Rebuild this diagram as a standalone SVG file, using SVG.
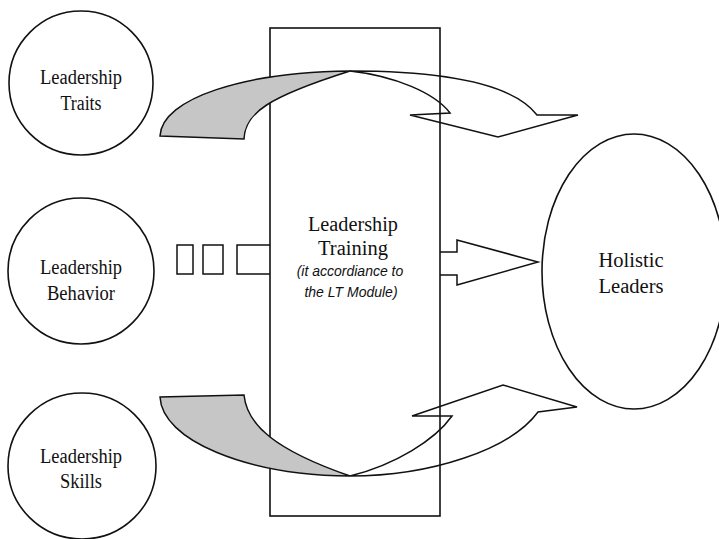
<svg xmlns="http://www.w3.org/2000/svg" width="719" height="539" viewBox="0 0 719 539">
  <style>
    .node { fill: #fff; stroke: #111; stroke-width: 1.6; }
    .label { font-family: "Liberation Serif", "DejaVu Serif", serif; font-size: 20px; fill: #111; text-anchor: middle; }
    .note { font-family: "Liberation Sans", Arial, sans-serif; font-style: italic; font-size: 14px; fill: #111; text-anchor: middle; }
    .line { fill: none; stroke: #111; stroke-width: 1.5; stroke-linejoin: miter; }
    .shade { fill: #c6c6c6; stroke: #111; stroke-width: 1.5; }
    .box { fill: none; stroke: #111; stroke-width: 1.6; }
  </style>
  <rect width="719" height="539" fill="#fff"/>

  <!-- training module frame -->
  <g id="training">
    <rect class="box" x="270" y="28" width="170" height="488"/>
    <text class="label" x="353" y="231" textLength="90" lengthAdjust="spacingAndGlyphs">Leadership</text>
    <text class="label" x="353" y="255" textLength="70" lengthAdjust="spacingAndGlyphs">Training</text>
    <text class="note" x="350" y="276">(it accordiance to</text>
    <text class="note" x="351" y="297">the LT Module)</text>
  </g>

  <g id="traits">
    <ellipse class="node" cx="81" cy="83" rx="72" ry="72"/>
    <text class="label" x="81" y="84" textLength="82" lengthAdjust="spacingAndGlyphs">Leadership</text>
    <text class="label" x="81" y="110" textLength="41" lengthAdjust="spacingAndGlyphs">Traits</text>
  </g>

  <g id="behavior">
    <ellipse class="node" cx="81" cy="271" rx="73" ry="73"/>
    <text class="label" x="81" y="274" textLength="82" lengthAdjust="spacingAndGlyphs">Leadership</text>
    <text class="label" x="81" y="300" textLength="68" lengthAdjust="spacingAndGlyphs">Behavior</text>
  </g>

  <g id="skills">
    <ellipse class="node" cx="82" cy="466" rx="74" ry="73"/>
    <text class="label" x="81" y="463" textLength="82" lengthAdjust="spacingAndGlyphs">Leadership</text>
    <text class="label" x="81" y="488" textLength="42" lengthAdjust="spacingAndGlyphs">Skills</text>
  </g>

  <g id="holistic">
    <ellipse class="node" cx="634" cy="271.5" rx="92" ry="137.5"/>
    <text class="label" x="631" y="267" textLength="65" lengthAdjust="spacingAndGlyphs">Holistic</text>
    <text class="label" x="631" y="293" textLength="65" lengthAdjust="spacingAndGlyphs">Leaders</text>
  </g>

  <g id="connectors">
    <!-- behavior feed: broken block arrow into the frame -->
    <rect class="line" x="177" y="245" width="16" height="29"/>
    <rect class="line" x="203" y="245" width="20" height="29"/>
    <path class="line" d="M270,245 H237 V274 H270"/>

    <!-- block arrow from frame to holistic leaders -->
    <path class="line" d="M440,252 H457 V240 L538,262 L457,285 V275 H440"/>

    <!-- upper curved ribbon arrow -->
    <path class="shade" d="M350,71 C245,72 162,98 160,136 L244,139 C245,113 268,97 350,71 Z"/>
    <path class="line" d="M350,71 C430,71 510,80 537,115 L578,115 L498,137 L410,115 L450,113 C435,93 395,76 350,71"/>

    <!-- lower curved ribbon arrow -->
    <path class="shade" d="M350,476 C245,475 162,440 160,397 L244,395 C247,425 275,450 350,476 Z"/>
    <path class="line" d="M350,476 C430,476 510,450 538,412 L577,407 L503,385 L412,416 L452,416 C435,440 395,465 350,476"/>
  </g>
</svg>
